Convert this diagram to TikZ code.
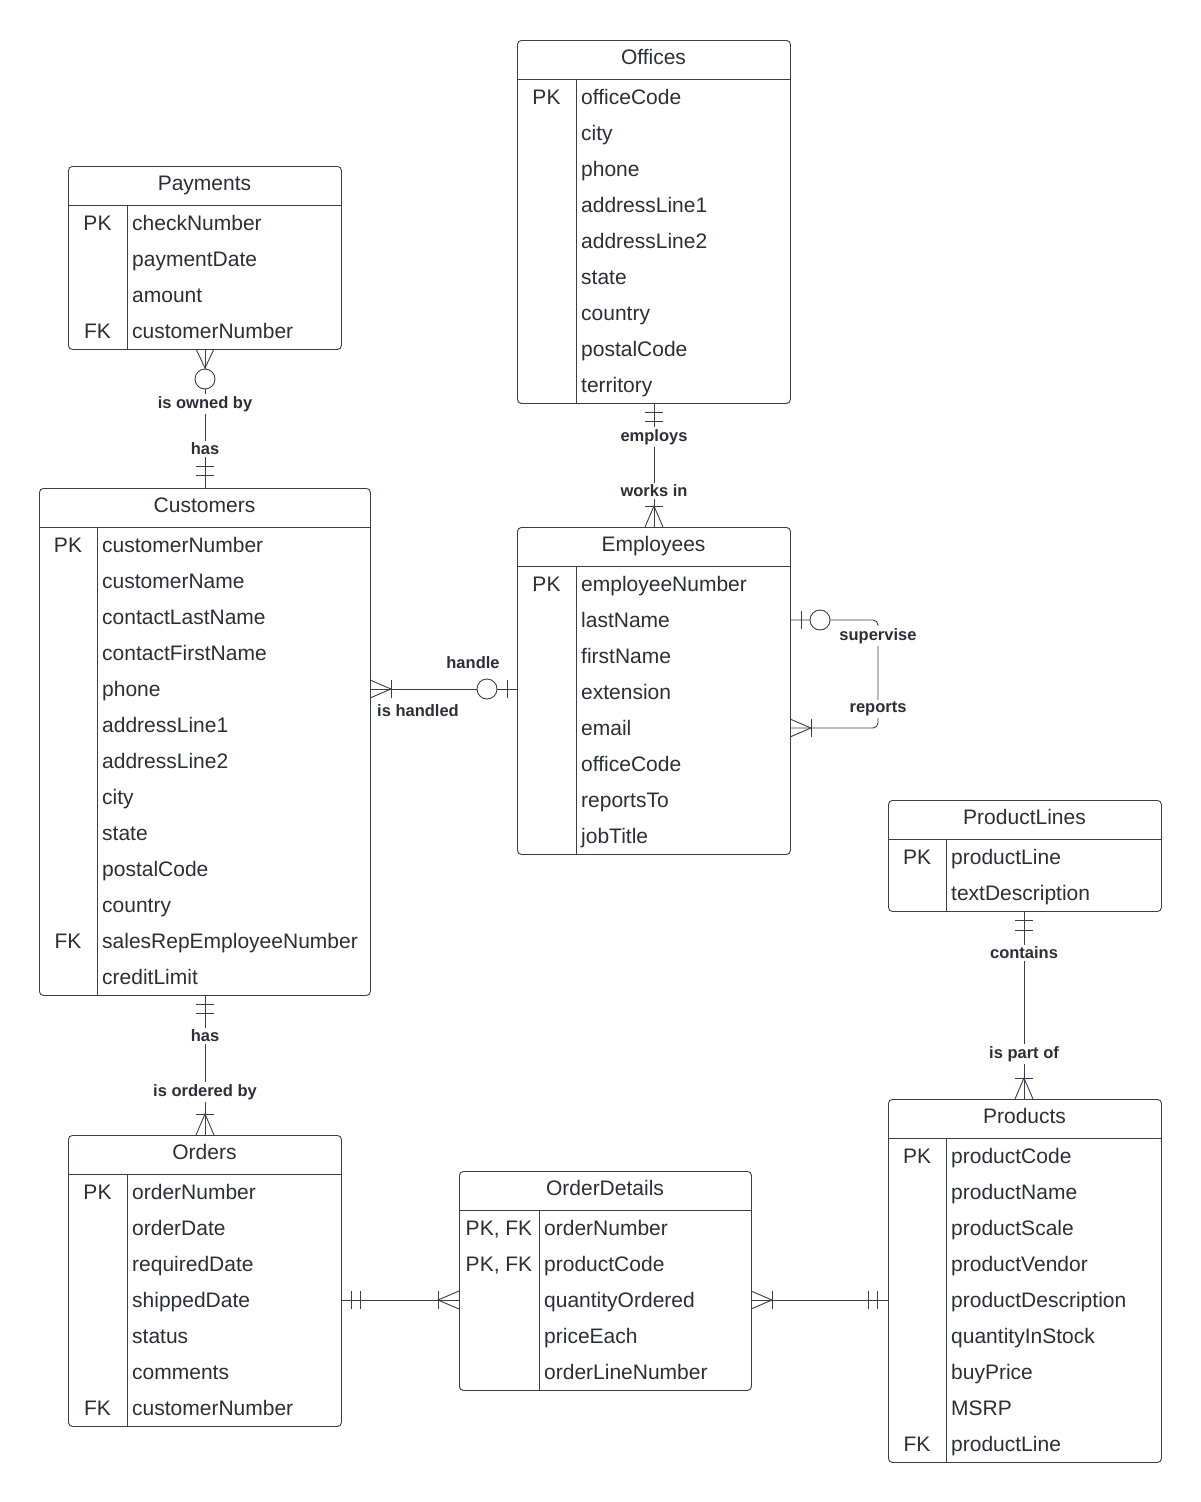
\documentclass[tikz,border=0pt]{standalone}
\usepackage{fontspec}
\setmainfont{Liberation Sans}
\definecolor{ln}{HTML}{3A3F47}
\definecolor{tx}{HTML}{2B2F36}
\newcommand{\pkfk}{PK, FK}
\tikzset{
  ent/.style={draw=ln,line width=0.9pt,rounded corners=4pt,anchor=north west,inner sep=0pt},
  sep/.style={draw=ln,line width=0.6pt},
  rowt/.style={font=\fontsize{21}{21}\selectfont,text=tx,anchor=base west,inner sep=0pt},
  keyt/.style={font=\fontsize{21}{21}\selectfont,text=tx,anchor=base,inner sep=0pt},
  conn/.style={draw=ln,line width=0.9pt},
  lab/.style={font=\bfseries\fontsize{16.5}{16.5}\selectfont,text=tx,fill=white,inner sep=2pt},
}
% \ent{name}{x1}{x2}{xd}{top}{title}{nrows}{list key/field}
\newcommand{\ent}[8]{%
  \pgfmathsetmacro{\ww}{#3-#2}\pgfmathsetmacro{\hh}{39+36*#7}%
  \node[ent,minimum width=\ww pt,minimum height=\hh pt] (#1) at (#2,#5) {};
  \draw[sep] (#2,#5+39) -- (#3,#5+39);
  \draw[sep] (#4,#5+39) -- (#4,#5+\hh);
  \node[keyt,anchor=base] at ({(#2+#3)/2},#5+24) {#6};
  \foreach \k/\f [count=\i from 0] in {#8}{
    \node[keyt] at ({(#2+#4)/2},#5+39+25+36*\i) {\k};
    \node[rowt] at (#4+5,#5+39+25+36*\i) {\f};
  }%
}
\begin{document}
\begin{tikzpicture}[x=1pt,y=-1pt]
\useasboundingbox[fill=white] (0,0) rectangle (1200,1502);
\ent{off}{517}{790}{576}{40}{Offices}{9}{PK/officeCode,/city,/phone,/addressLine1,/addressLine2,/state,/country,/postalCode,/territory}
\ent{pay}{68}{341}{127}{166}{Payments}{4}{PK/checkNumber,/paymentDate,/amount,FK/customerNumber}
\ent{cus}{39}{370}{97}{488}{Customers}{13}{PK/customerNumber,/customerName,/contactLastName,/contactFirstName,/phone,/addressLine1,/addressLine2,/city,/state,/postalCode,/country,FK/salesRepEmployeeNumber,/creditLimit}
\ent{emp}{517}{790}{576}{527}{Employees}{8}{PK/employeeNumber,/lastName,/firstName,/extension,/email,/officeCode,/reportsTo,/jobTitle}
\ent{pl}{888}{1161}{946}{800}{ProductLines}{2}{PK/productLine,/textDescription}
\ent{prod}{888}{1161}{946}{1099}{Products}{9}{PK/productCode,/productName,/productScale,/productVendor,/productDescription,/quantityInStock,/buyPrice,/MSRP,FK/productLine}
\ent{ord}{68}{341}{127}{1135}{Orders}{7}{PK/orderNumber,/orderDate,/requiredDate,/shippedDate,/status,/comments,FK/customerNumber}
\ent{od}{459}{751}{539}{1171}{OrderDetails}{5}{\pkfk/orderNumber,\pkfk/productCode,/quantityOrdered,/priceEach,/orderLineNumber}

% Payments - Customers
\coordinate (a1) at (205,349); \coordinate (a2) at (205,488);
\draw[conn] (a1) -- (205,369);
\draw[conn] (205,389) -- (a2);
\draw[conn] (196,349) -- (205,368) -- (214,349);
\draw[conn] (205,379) circle (10);
\draw[conn] (196,466) -- (214,466) (196,475) -- (214,475);
\node[lab] at (205,404) {is owned by};
\node[lab] at (205,449) {has};

% Offices - Employees
\coordinate (b1) at (654,403); \coordinate (b2) at (654,527);
\draw[conn] (b1) -- (b2);
\draw[conn] (645,412) -- (663,412) (645,421) -- (663,421);
\draw[conn] (645,506) -- (663,506);
\draw[conn] (645,527) -- (654,506) -- (663,527);
\node[lab] at (654,437) {employs};
\node[lab] at (654,491) {works in};

% Customers - Employees
\coordinate (c1) at (370,689); \coordinate (c2) at (517,689);
\draw[conn] (c1) -- (477,689) (497,689) -- (c2);
\draw[conn] (370,680) -- (391,689) -- (370,698);
\draw[conn] (391,680) -- (391,698);
\draw[conn] (487,689) circle (10);
\draw[conn] (507,680) -- (507,698);
\node[lab] at (473,663) {handle};
\node[lab] at (418,711) {is handled};

% Employees self
\coordinate (d1) at (790,620); \coordinate (d2) at (790,728);
\draw[conn,rounded corners=5pt] (d1) -- (810,620) (830,620) -- (878,620) -- (878,728) -- (d2);
\draw[conn] (801,611) -- (801,629);
\draw[conn] (820,620) circle (10);
\draw[conn] (790,719) -- (811,728) -- (790,737);
\draw[conn] (811,719) -- (811,737);
\node[lab] at (878,636) {supervise};
\node[lab] at (878,709) {reports};

% Customers - Orders
\coordinate (e1) at (205,995); \coordinate (e2) at (205,1135);
\draw[conn] (e1) -- (e2);
\draw[conn] (196,1004) -- (214,1004) (196,1013) -- (214,1013);
\draw[conn] (196,1114) -- (214,1114);
\draw[conn] (196,1135) -- (205,1114) -- (214,1135);
\node[lab] at (205,1036) {has};
\node[lab] at (205,1092) {is ordered by};

% ProductLines - Products
\coordinate (f1) at (1024,911); \coordinate (f2) at (1024,1099);
\draw[conn] (f1) -- (f2);
\draw[conn] (1015,920) -- (1033,920) (1015,930) -- (1033,930);
\draw[conn] (1015,1078) -- (1033,1078);
\draw[conn] (1015,1099) -- (1024,1078) -- (1033,1099);
\node[lab] at (1024,953) {contains};
\node[lab] at (1024,1054) {is part of};

% Orders - OrderDetails
\coordinate (g1) at (341,1300); \coordinate (g2) at (459,1300);
\draw[conn] (g1) -- (g2);
\draw[conn] (351,1291) -- (351,1309) (360,1291) -- (360,1309);
\draw[conn] (438,1291) -- (438,1309);
\draw[conn] (459,1291) -- (438,1300) -- (459,1309);

% OrderDetails - Products
\coordinate (h1) at (751,1300); \coordinate (h2) at (888,1300);
\draw[conn] (h1) -- (h2);
\draw[conn] (751,1291) -- (772,1300) -- (751,1309);
\draw[conn] (772,1291) -- (772,1309);
\draw[conn] (868,1291) -- (868,1309) (877,1291) -- (877,1309);
\end{tikzpicture}
\end{document}
